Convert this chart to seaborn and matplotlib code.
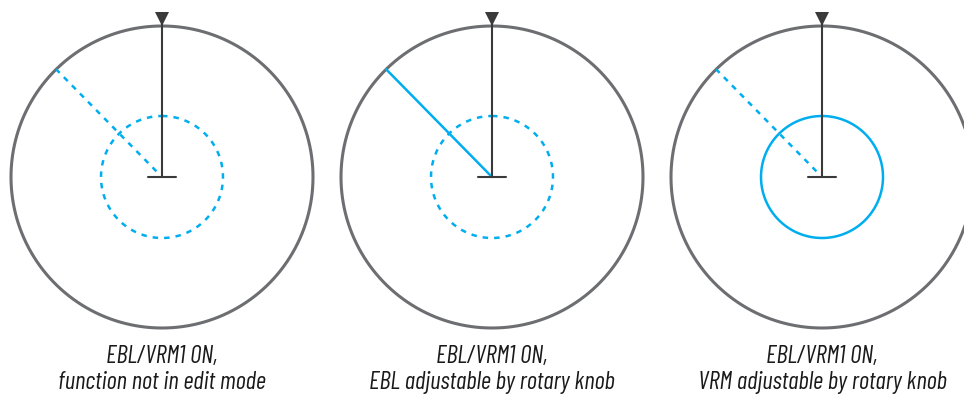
import numpy as np
import pandas as pd
import matplotlib
matplotlib.use('agg')
import matplotlib.pyplot as plt
import seaborn as sns

# panel data
centers_x = [162, 492, 822]
center_y = 177
outer_r = 151
vrm_r = 61
ebl_bearing = [315.5, 315.5, 315.5]
ebl_style = ["dotted", "solid", "dotted"]
vrm_style = ["dotted", "dotted", "solid"]
line1 = ["EBL/VRM1 ON,", "EBL/VRM1 ON,", "EBL/VRM1 ON,"]
line2 = ["function not in edit mode", "EBL adjustable by rotary knob", "VRM adjustable by rotary knob"]

BLUE = "#00aeef"
GREY = "#6d6e71"
DARK = "#3a3a3a"
DASH = (0, (2.2, 2.4))

sns.set_style("white")
plt.rcParams['font.family'] = ['Barlow Condensed', 'Asap Condensed', 'DejaVu Sans']


def circle_df(cx, cy, r):
	t = np.linspace(0, 2*np.pi, 361)
	return pd.DataFrame({"x": cx + r*np.sin(t), "y": cy - r*np.cos(t)})


def seg_df(x0, y0, x1, y1):
	return pd.DataFrame({"x": [x0, x1], "y": [y0, y1]})


def draw_panel(ax, k):
	cx = centers_x[k]
	cy = center_y
	# outer ring
	sns.lineplot(x="x", y="y", data=circle_df(cx, cy, outer_r), sort=False, estimator=None,
		color=GREY, lw=2.2, ax=ax)
	# VRM
	ls = DASH if vrm_style[k] == "dotted" else "-"
	sns.lineplot(x="x", y="y", data=circle_df(cx, cy, vrm_r), sort=False, estimator=None,
		color=BLUE, lw=1.8, linestyle=ls, ax=ax)
	# EBL
	a = np.deg2rad(ebl_bearing[k])
	ls = DASH if ebl_style[k] == "dotted" else "-"
	start = 8 if ebl_style[k] == "dotted" else 0
	sns.lineplot(x="x", y="y", data=seg_df(cx + start*np.sin(a), cy - start*np.cos(a),
		cx + outer_r*np.sin(a), cy - outer_r*np.cos(a)), sort=False, estimator=None,
		color=BLUE, lw=1.8, linestyle=ls, ax=ax)
	# heading line + own ship
	sns.lineplot(x="x", y="y", data=seg_df(cx, cy, cx, cy - outer_r - 4), sort=False, estimator=None,
		color=DARK, lw=1.5, ax=ax)
	sns.lineplot(x="x", y="y", data=seg_df(cx - 14, cy, cx + 14, cy), sort=False, estimator=None,
		color=DARK, lw=1.5, ax=ax)
	ax.plot([cx], [cy - outer_r - 7], marker="v", ms=9.5, color=DARK, mew=0)
	ax.text(cx, 363, line1[k], ha="center", va="baseline", fontsize=18, style="italic", color="#1a1a1a")
	ax.text(cx, 389, line2[k], ha="center", va="baseline", fontsize=18, style="italic", color="#1a1a1a")


fig = plt.figure(figsize=(9.64, 3.97), dpi=100)
ax = fig.add_axes([0, 0, 1, 1])
for k in range(3):
	draw_panel(ax, k)
ax.set_xlim(0, 964)
ax.set_ylim(397, 0)
ax.set_aspect("equal")
ax.axis("off")
fig.savefig("out.png", dpi=100)
